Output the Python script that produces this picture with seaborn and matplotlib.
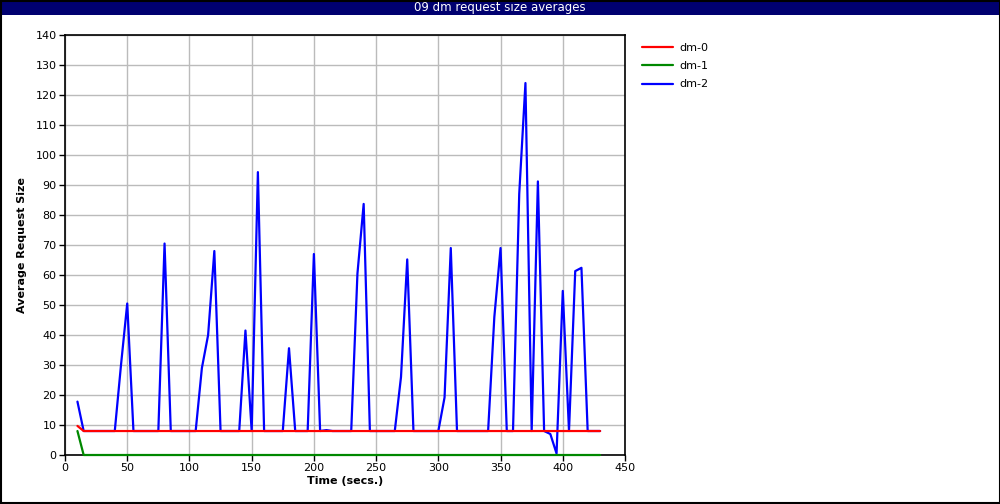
import pandas as pd
import seaborn as sns
import matplotlib.pyplot as plt
from matplotlib.patches import Rectangle

# sample times (secs), one every 5 s
time = list(range(10, 435, 5))

dm0 = [9.7, 8, 8, 8, 8, 8, 8, 8, 8, 8, 8, 8, 8, 8, 8, 8, 8, 8, 8, 8, 8,
       8, 8, 8, 8, 8, 8, 8, 8, 8, 8, 8, 8, 8, 8, 8, 8, 8, 8, 8, 8, 8,
       8, 8, 8, 8, 8, 8, 8, 8, 8, 8, 8, 8, 8, 8, 8, 8, 8, 8, 8, 8, 8,
       8, 8, 8, 8, 8, 8, 8, 8, 8, 8, 8, 8, 8, 8, 8, 8, 8, 8, 8, 8, 8, 8]
dm1 = [8, 0, 0, 0, 0, 0, 0, 0, 0, 0, 0, 0, 0, 0, 0, 0, 0, 0, 0, 0, 0,
       0, 0, 0, 0, 0, 0, 0, 0, 0, 0, 0, 0, 0, 0, 0, 0, 0, 0, 0, 0, 0,
       0, 0, 0, 0, 0, 0, 0, 0, 0, 0, 0, 0, 0, 0, 0, 0, 0, 0, 0, 0, 0,
       0, 0, 0, 0, 0, 0, 0, 0, 0, 0, 0, 0, 0, 0, 0, 0, 0, 0, 0, 0, 0, 0]
dm2 = [17.8, 8, 8, 8, 8, 8, 8, 30, 50.5, 8,          # 10-55
       8, 8, 8, 8, 70.5, 8, 8, 8, 8, 8,              # 60-105
       29, 40, 68, 8, 8, 8, 8, 41.5, 8, 94.3,        # 110-155
       8, 8, 8, 8, 35.6, 8, 8, 8, 67, 8,             # 160-205
       8.3, 8, 8, 8, 8, 60.5, 83.7, 8, 8, 8,         # 210-255
       8, 8, 26, 65.2, 8, 8, 8, 8, 8, 19.2,          # 260-305
       69, 8, 8, 8, 8, 8, 8, 46, 69, 8,              # 310-355
       8, 87, 124, 8, 91.2, 8, 7, 0.5, 54.7, 8,      # 360-405
       61.3, 62.4, 8, 8, 8]                          # 410-430

series = ['dm-0', 'dm-1', 'dm-2']
colors = ['#ff0000', '#008800', '#0000ff']

df = pd.DataFrame({
    'time': time * 3,
    'value': dm0 + dm1 + dm2,
    'device': [s for s in series for _ in time],
})

sns.set_style('white')
plt.rcParams['font.family'] = ['DejaVu Sans']

fig = plt.figure(figsize=(10, 5.04), dpi=100)
ax = fig.add_axes([0.065, 0.0972, 0.56, 0.8333])

# dm-2 first so dm-0 ends up drawn on top of it
sns.lineplot(data=df, x='time', y='value', hue='device',
             hue_order=series[::-1], palette=dict(zip(series, colors)),
             linewidth=1.6, ax=ax, legend=False, estimator=None)
for ln in ax.lines:
    ln.set_zorder(3)
    ln.set_clip_on(False)

ax.set_xlim(0, 450)
ax.set_ylim(0, 140)
ax.set_xticks(range(0, 451, 50))
ax.set_yticks(range(0, 141, 10))
ax.grid(True, color='#bbbbbb', linewidth=1)
ax.set_axisbelow(True)
for sp in ax.spines.values():
    sp.set_color('black')
    sp.set_linewidth(1.2)
ax.tick_params(axis='both', direction='out', length=4, width=1, color='black',
               labelcolor='black', labelsize=8, pad=2, bottom=True, left=True)
ax.set_xlabel('Time (secs.)', fontsize=8, fontweight='bold', labelpad=2,
              color='black')
ax.set_ylabel('Average Request Size', fontsize=8, fontweight='bold',
              labelpad=6, color='black')

# legend outside on the right
handles = [plt.Line2D([], [], color=c, linewidth=1.6) for c in colors]
fig.legend(handles, series, loc='upper left', bbox_to_anchor=(0.632, 0.935),
           frameon=False, fontsize=8, handlelength=2.8, labelspacing=0.75,
           handletextpad=0.6, labelcolor='black')

# title bar and outer border
fig.patches.append(Rectangle((0, 0.97), 1, 0.03, transform=fig.transFigure,
                             facecolor='#000070', edgecolor='none', zorder=0))
fig.text(0.5, 0.985, '09 dm request size averages', color='white',
         ha='center', va='center', fontsize=8.5)
fig.patches.append(Rectangle((0.0005, 0.001), 0.999, 0.998,
                             transform=fig.transFigure, facecolor='none',
                             edgecolor='black', linewidth=1.5, zorder=5))

fig.savefig('out.png', dpi=100)
